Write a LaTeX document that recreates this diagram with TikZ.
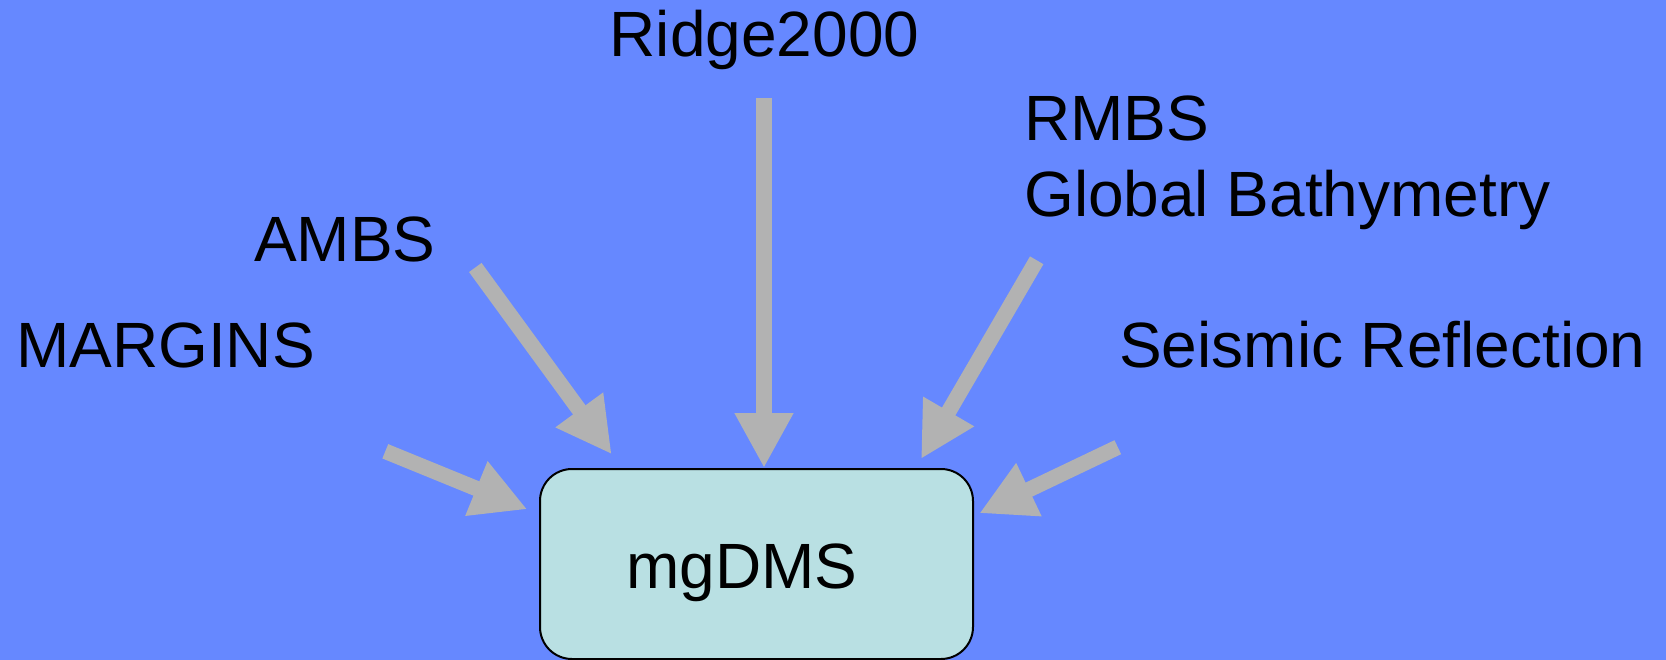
\documentclass[tikz,border=0pt]{standalone}
\usepackage{fontspec}
\setmainfont{Liberation Sans}
\usetikzlibrary{arrows.meta}
\definecolor{bgblue}{RGB}{102,136,255}
\definecolor{boxfill}{RGB}{185,224,227}
\definecolor{arrowgray}{RGB}{178,178,178}
\tikzset{
  lbl/.style={anchor=base west, inner sep=0pt, font=\fontsize{64}{77}\selectfont, text=black},
  bigarrow/.style={draw=arrowgray, line width=15.5pt,
    -{Triangle[length=55pt,width=55pt]}, arrowgray},
  dmsbox/.style={draw=black, line width=2pt, fill=boxfill, rounded corners=32pt,
    minimum width=433pt, minimum height=190pt, inner sep=0pt}
}
\begin{document}
\begin{tikzpicture}[x=1pt,y=-1pt]
\useasboundingbox (0,0) rectangle (1666,660);
\fill[bgblue] (0,0) rectangle (1666,660);

% box
\node[dmsbox] (box) at (756.5,564) {};
\node[lbl] (dms) at (626,588) {mgDMS};

% labels
\node[lbl] (ridge) at (609.5,56.5) {Ridge2000};
\node[lbl] (rmbs) at (1024,141) {RMBS};
\node[lbl] (global) at (1024,216.5) {Global Bathymetry};
\node[lbl] (ambs) at (254,262) {AMBS};
\node[lbl] (margins) at (16,367) {MARGINS};
\node[lbl] (seismic) at (1119,368) {Seismic Reflection};

% arrow end points
\coordinate (ridgeS) at (764,98);
\coordinate (ridgeT) at (764,468);
\coordinate (ambsS) at (475.3,267.5);
\coordinate (ambsT) at (611.7,454.3);
\coordinate (marS) at (385.3,451.3);
\coordinate (marT) at (527.3,509.3);
\coordinate (rmbsS) at (1036.7,260.3);
\coordinate (rmbsT) at (921,459);
\coordinate (seisS) at (1117.8,447.2);
\coordinate (seisT) at (979.3,513.3);

\draw[bigarrow] (ridgeS) -- (ridgeT);
\draw[bigarrow] (ambsS) -- (ambsT);
\draw[bigarrow] (marS) -- (marT);
\draw[bigarrow] (rmbsS) -- (rmbsT);
\draw[bigarrow] (seisS) -- (seisT);
\end{tikzpicture}
\end{document}
